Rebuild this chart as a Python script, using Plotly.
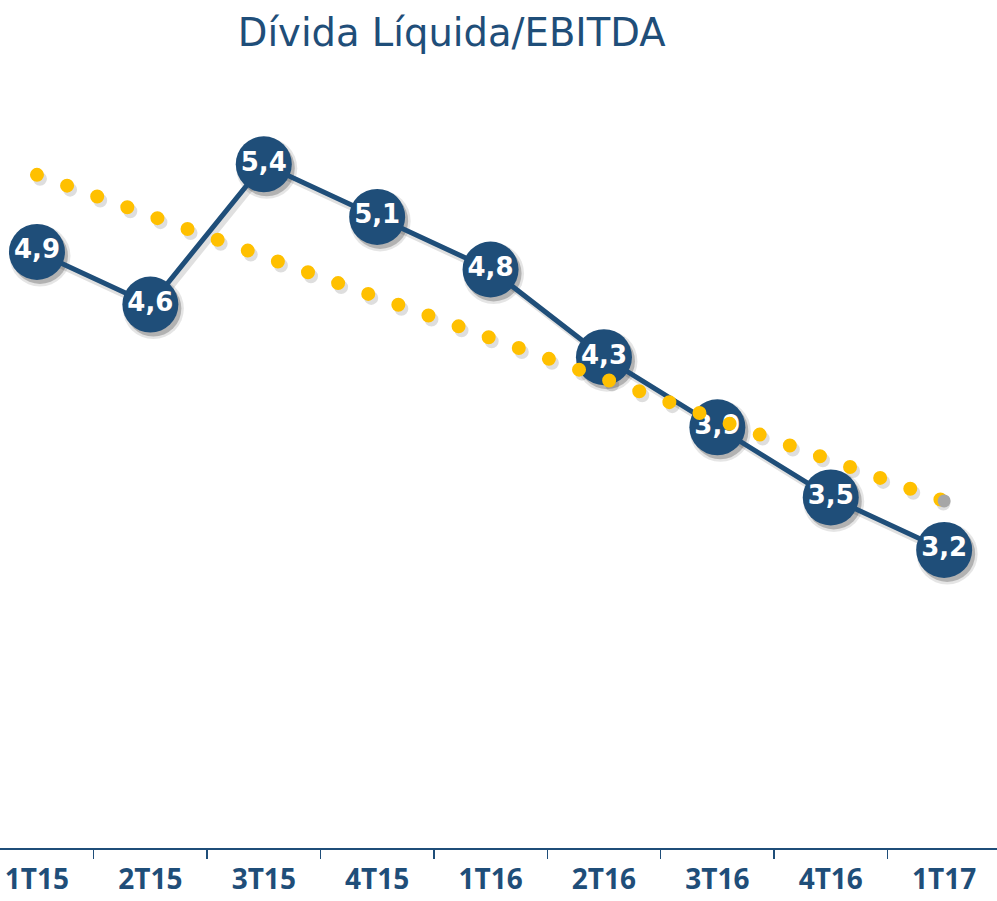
import plotly.graph_objects as go

# ---- data ----
categories = ["1T15", "2T15", "3T15", "4T15", "1T16", "2T16", "3T16", "4T16", "1T17"]
values = [4.9, 4.6, 5.4, 5.1, 4.8, 4.3, 3.9, 3.5, 3.2]
value_labels = ["4,9", "4,6", "5,4", "5,1", "4,8", "4,3", "3,9", "3,5", "3,2"]
trend_values = [5.34, 5.11, 4.87, 4.64, 4.41, 4.18, 3.95, 3.72, 3.48]
title_text = "Dívida Líquida/EBITDA"

NAVY = "#1F4E79"
GOLD = "#FFC000"

X_RANGE = [-0.326, 8.466]
Y_RANGE = [1.5, 5.881]
PX_PER_CAT = 997 / (X_RANGE[1] - X_RANGE[0])
PX_PER_UNIT = (901 - 80 - 53) / (Y_RANGE[1] - Y_RANGE[0])
SHX, SHY = 3, 4  # shadow offset in pixels
X_SHADOW = [X_RANGE[0] - SHX / PX_PER_CAT, X_RANGE[1] - SHX / PX_PER_CAT]
Y_SHADOW = [Y_RANGE[0] + SHY / PX_PER_UNIT, Y_RANGE[1] + SHY / PX_PER_UNIT]

DOT_DASH = "0px,32px"

fig = go.Figure()

# ---- shadows (on shifted, invisible axes x/y) ----
fig.add_trace(go.Scatter(
    x=categories, y=values, mode="lines",
    line=dict(color="rgba(0,0,0,0.12)", width=6),
    xaxis="x", yaxis="y", showlegend=False, hoverinfo="skip"))
fig.add_trace(go.Scatter(
    x=categories, y=values, mode="markers",
    marker=dict(size=61, color="rgba(0,0,0,0.10)"),
    xaxis="x", yaxis="y", showlegend=False, hoverinfo="skip"))
fig.add_trace(go.Scatter(
    x=categories, y=values, mode="markers",
    marker=dict(size=56, color="rgba(0,0,0,0.22)"),
    xaxis="x", yaxis="y", showlegend=False, hoverinfo="skip"))
fig.add_trace(go.Scatter(
    x=categories, y=trend_values, mode="lines",
    line=dict(color="rgba(0,0,0,0.13)", width=14, dash=DOT_DASH),
    xaxis="x", yaxis="y", showlegend=False, hoverinfo="skip"))

# ---- main traces (on visible overlay axes x2/y2) ----
fig.add_trace(go.Scatter(
    x=categories, y=values, mode="lines+markers+text",
    line=dict(color=NAVY, width=5),
    marker=dict(size=56, color=NAVY),
    text=value_labels, textposition="middle center",
    textfont=dict(family="DejaVu Sans", size=26, color="white", weight="bold"),
    xaxis="x2", yaxis="y2", showlegend=False, hoverinfo="skip"))
fig.add_trace(go.Scatter(
    x=categories, y=trend_values, mode="lines",
    line=dict(color=GOLD, width=14, dash=DOT_DASH),
    xaxis="x2", yaxis="y2", showlegend=False, hoverinfo="skip"))
fig.add_trace(go.Scatter(
    x=[categories[-1]], y=[trend_values[-1]], mode="markers",
    marker=dict(size=13, color="#A6A6A6"),
    xaxis="x2", yaxis="y2", showlegend=False, hoverinfo="skip"))

fig.update_layout(
    width=997, height=901,
    margin=dict(l=0, r=0, t=80, b=53),
    paper_bgcolor="white", plot_bgcolor="white",
    hovermode=False,
    title=dict(text=title_text, x=0.453, xanchor="center", xref="paper",
               y=1 - 33 / 901, yanchor="middle", yref="container",
               font=dict(family="DejaVu Sans", size=38.5, color=NAVY)),
    xaxis=dict(type="category", categoryarray=categories, range=X_SHADOW,
               visible=False, fixedrange=True),
    yaxis=dict(range=Y_SHADOW, visible=False, fixedrange=True),
    xaxis2=dict(type="category", categoryarray=categories, range=X_RANGE,
                overlaying="x", anchor="y2", side="bottom",
                showline=True, linecolor=NAVY, linewidth=1.5,
                ticks="outside", tickson="boundaries", ticklen=9,
                tickcolor=NAVY, tickwidth=1.5, ticklabelstandoff=6,
                tickfont=dict(family="Open Sans", size=28, color=NAVY, weight="bold"),
                showgrid=False, zeroline=False, fixedrange=True, automargin=False),
    yaxis2=dict(range=Y_RANGE, overlaying="y", anchor="x2",
                visible=False, fixedrange=True),
)

post = """
document.documentElement.style.margin = '0';
document.body.style.margin = '0';
document.body.style.padding = '0';
var gd = document.getElementById('{plot_id}');
gd.querySelectorAll('path.js-line').forEach(function(p){
    p.style.strokeLinecap = 'round';
    p.style.strokeLinejoin = 'round';
});
"""

fig.write_html("out.html", post_script=post,
               config={"displayModeBar": False, "staticPlot": True})
